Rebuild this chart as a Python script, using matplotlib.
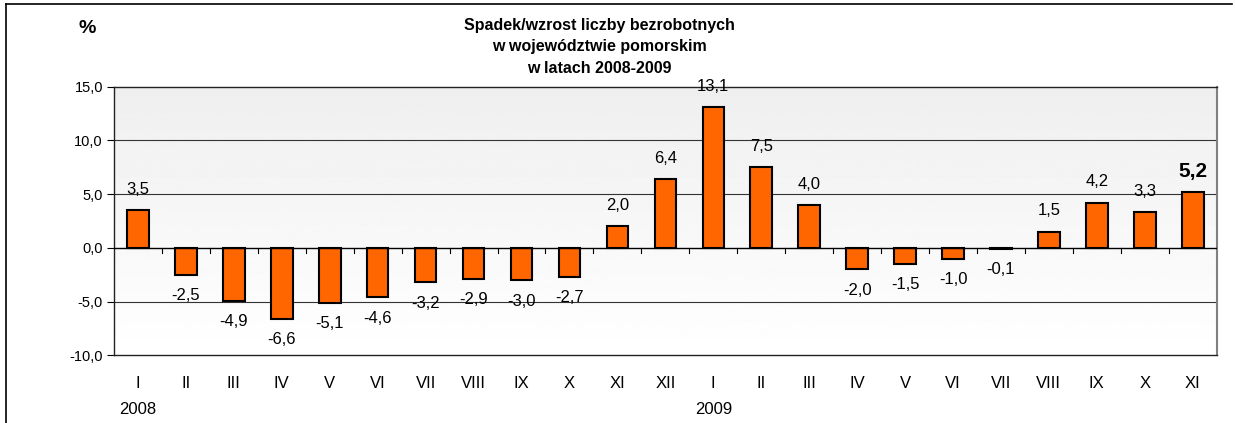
import numpy as np
import matplotlib
matplotlib.use("Agg")
import matplotlib.pyplot as plt
from matplotlib.lines import Line2D

plt.rcParams["font.family"] = ["Liberation Sans", "DejaVu Sans"]

# months I 2008 .. XI 2009
months = ["I", "II", "III", "IV", "V", "VI", "VII", "VIII", "IX", "X", "XI", "XII",
          "I", "II", "III", "IV", "V", "VI", "VII", "VIII", "IX", "X", "XI"]
values = [3.5, -2.5, -4.9, -6.6, -5.1, -4.6, -3.2, -2.9, -3.0, -2.7, 2.0, 6.4,
          13.1, 7.5, 4.0, -2.0, -1.5, -1.0, -0.1, 1.5, 4.2, 3.3, 5.2]
years = ["2008", "2009"]
year_pos = [0, 12]
yticks = [-10, -5, 0, 5, 10, 15]

title = "Spadek/wzrost liczby bezrobotnych\nw województwie pomorskim\nw latach 2008-2009"


def fmt(v):
    return f"{v:.1f}".replace(".", ",")


fig = plt.figure(figsize=(12.35, 4.23), dpi=100)
ax = fig.add_axes([0.0923, 0.1596, 0.8929, 0.6359])

x = np.arange(len(values))
ax.set_xlim(-0.5, len(values) - 0.5)
ax.set_ylim(-10, 15)

# light grey gradient background, darker at the top
grad = np.linspace(0.935, 1.0, 256).reshape(-1, 1)
ax.imshow(grad, cmap="gray", vmin=0, vmax=1, aspect="auto", origin="upper",
          extent=[-0.5, len(values) - 0.5, -10, 15], zorder=0)

for g in [-5, 5, 10]:
    ax.axhline(g, color="#333333", linewidth=0.8, zorder=1)

ax.bar(x, values, width=0.45, color="#FF6600", edgecolor="black",
       linewidth=1.5, zorder=3)

# zero line with category-separating ticks
ax.axhline(0, color="black", linewidth=1.0, zorder=4)
for b in np.arange(0.5, len(values) - 0.5, 1.0):
    ax.plot([b, b], [0, -0.5], color="black", linewidth=0.8, zorder=4)

for i, v in enumerate(values):
    last = i == len(values) - 1
    off = 15 if v >= 0 else -15
    ax.annotate(fmt(v), (i, v), xytext=(0, off), textcoords="offset points",
                ha="center", va="center",
                fontsize=15 if last else 12,
                fontweight="bold" if last else "normal", zorder=5)

ax.set_xticks(x, months, fontsize=12)
ax.tick_params(axis="x", length=0, pad=15)
ax.set_yticks(yticks, [fmt(t) for t in yticks], fontsize=10.5)
ax.tick_params(axis="y", length=5, width=0.8, pad=3, direction="out")

for i, y in zip(year_pos, years):
    ax.annotate(y, (i, 0), xycoords=("data", "axes fraction"), xytext=(0, -39),
                textcoords="offset points", ha="center", va="center", fontsize=12)

for s in ["left", "top", "bottom"]:
    ax.spines[s].set_color("#222222")
    ax.spines[s].set_linewidth(1.0)
ax.spines["right"].set_color("#808080")
ax.spines["right"].set_linewidth(1.5)

fig.text(0.485, 0.958, title, ha="center", va="top", fontsize=11.5,
         fontweight="bold", linespacing=1.55)
fig.text(0.0705, 0.933, "%", ha="center", va="center", fontsize=14,
         fontweight="bold")

# outer frame (left and top)
fig.add_artist(Line2D([5.5 / 1235, 5.5 / 1235], [0, 1 - 4.5 / 423],
                      transform=fig.transFigure, color="black", linewidth=1.2))
fig.add_artist(Line2D([5.5 / 1235, 1232 / 1235], [1 - 4.5 / 423, 1 - 4.5 / 423],
                      transform=fig.transFigure, color="black", linewidth=1.2))

fig.savefig("out.png", dpi=100)
